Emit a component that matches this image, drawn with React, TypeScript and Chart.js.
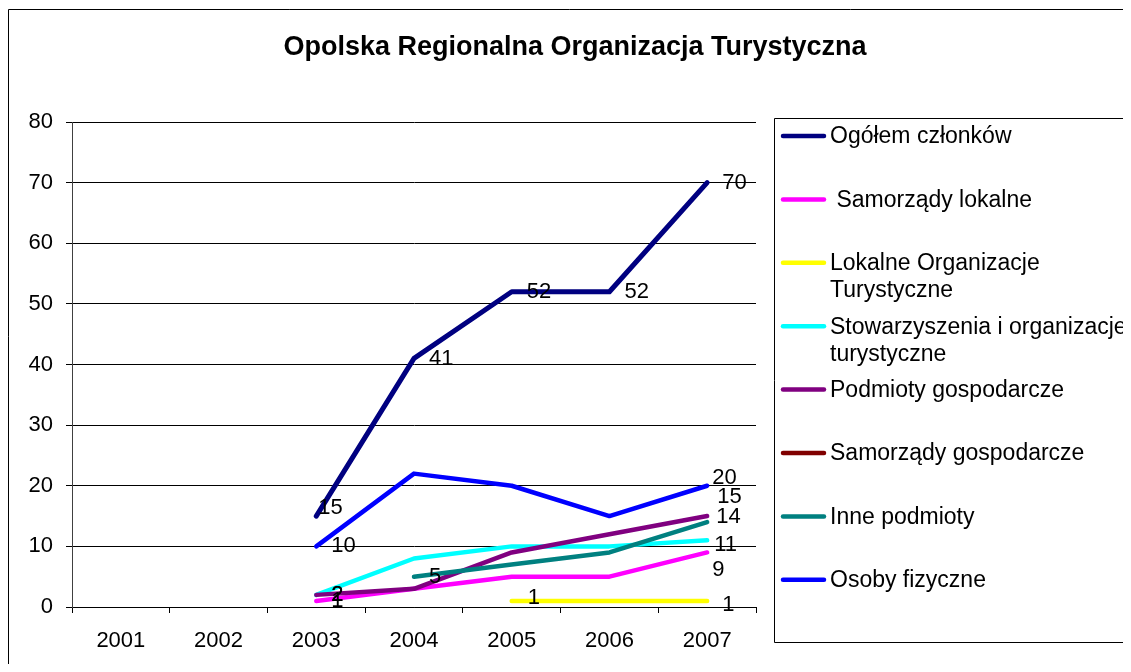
import React, { useEffect, useRef } from "react";
import { Chart, registerables } from "chart.js";

Chart.register(...registerables);

const chartTitle = "Opolska Regionalna Organizacja Turystyczna";

const years = ["2001", "2002", "2003", "2004", "2005", "2006", "2007"];

const ogolemCzlonkow = [null, null, 15, 41, 52, 52, 70];
const samorzadyLokalne = [null, null, 1, 3, 5, 5, 9];
const lokalneOrganizacje = [null, null, null, null, 1, 1, 1];
const stowarzyszenia = [null, null, 2, 8, 10, 10, 11];
const podmiotyGospodarcze = [null, null, 2, 3, 9, 12, 15];
const samorzadyGospodarcze = [null, null, null, null, null, null, null];
const innePodmioty = [null, null, null, 5, 7, 9, 14];
const osobyFizyczne = [null, null, 10, 22, 20, 15, 20];

const seriesValues = [
  ogolemCzlonkow,
  samorzadyLokalne,
  lokalneOrganizacje,
  stowarzyszenia,
  podmiotyGospodarcze,
  samorzadyGospodarcze,
  innePodmioty,
  osobyFizyczne,
];

const seriesNames = [
  ["Ogółem członków"],
  [" Samorządy lokalne"],
  ["Lokalne Organizacje", "Turystyczne"],
  ["Stowarzyszenia i organizacje", "turystyczne"],
  ["Podmioty gospodarcze"],
  ["Samorządy gospodarcze"],
  ["Inne podmioty"],
  ["Osoby fizyczne"],
];

const seriesColors = [
  "#000080",
  "#FF00FF",
  "#FFFF00",
  "#00FFFF",
  "#800080",
  "#800000",
  "#008080",
  "#0000FF",
];

// label every point (true) or only first and last point (false)
const labelAllPoints = [true, false, false, false, false, false, false, false];

// manual label nudges (px) like Excel's dragged labels: "series-point": [dx, dy]
const labelNudges: Record<string, [number, number]> = {
  "0-2": [-13, -8],
  "7-6": [-10, -8],
  "4-6": [-5, -19],
  "6-6": [-6, -5],
  "3-6": [-8, 5],
  "1-6": [-10, 17],
  "2-6": [0, 4],
  "2-4": [1, -3],
};

const FONT = "'Liberation Sans', Arial, Helvetica, sans-serif";
const W = 1123;
const H = 656;

const framePlugin = {
  id: "frame",
  beforeDraw(chart: any) {
    const ctx = chart.ctx;
    ctx.save();
    ctx.fillStyle = "#ffffff";
    ctx.fillRect(0, 0, chart.width, chart.height);
    ctx.strokeStyle = "#000000";
    ctx.lineWidth = 1;
    ctx.beginPath();
    ctx.moveTo(0.5, chart.height);
    ctx.lineTo(0.5, 1.5);
    ctx.lineTo(chart.width, 1.5);
    ctx.stroke();
    // title, centred on the whole chart frame
    ctx.font = `bold 27px ${FONT}`;
    ctx.fillStyle = "#000000";
    ctx.textAlign = "center";
    ctx.textBaseline = "middle";
    ctx.fillText(chartTitle, 567, 40);
    ctx.restore();
  },
};

const labelsPlugin = {
  id: "pointLabels",
  afterDatasetsDraw(chart: any) {
    const ctx = chart.ctx;
    ctx.save();
    ctx.font = `22px ${FONT}`;
    ctx.fillStyle = "#000000";
    ctx.textAlign = "left";
    ctx.textBaseline = "middle";
    chart.data.datasets.forEach((ds: any, i: number) => {
      const vals = ds.data as (number | null)[];
      const idx = vals.map((v, j) => (v === null ? -1 : j)).filter((j) => j >= 0);
      if (!idx.length) return;
      const first = idx[0];
      const last = idx[idx.length - 1];
      const meta = chart.getDatasetMeta(i);
      idx.forEach((j) => {
        if (!labelAllPoints[i] && j !== first && j !== last) return;
        const pt = meta.data[j];
        const n = labelNudges[`${i}-${j}`] || [0, 0];
        ctx.fillText(String(vals[j]), pt.x + 15 + n[0], pt.y + n[1]);
      });
    });
    ctx.restore();
  },
};

const legendPlugin = {
  id: "boxLegend",
  afterDraw(chart: any) {
    const ctx = chart.ctx;
    ctx.save();
    ctx.strokeStyle = "#000000";
    ctx.lineWidth = 1;
    ctx.beginPath();
    ctx.moveTo(chart.width + 5, 110.5);
    ctx.lineTo(766.5, 110.5);
    ctx.lineTo(766.5, 634.5);
    ctx.lineTo(chart.width + 5, 634.5);
    ctx.stroke();
    ctx.font = `23px ${FONT}`;
    ctx.fillStyle = "#000000";
    ctx.textAlign = "left";
    ctx.textBaseline = "middle";
    chart.data.datasets.forEach((ds: any, i: number) => {
      const y = 128 + i * 63.4;
      ctx.strokeStyle = ds.borderColor;
      ctx.lineWidth = 4.5;
      ctx.lineCap = "round";
      ctx.beginPath();
      ctx.moveTo(775, y);
      ctx.lineTo(816, y);
      ctx.stroke();
      const lines = seriesNames[i];
      lines.forEach((t, k) => ctx.fillText(t, 822, y + 1 + k * 27));
    });
    ctx.restore();
  },
};

export default function App() {
  const ref = useRef<HTMLCanvasElement | null>(null);

  useEffect(() => {
    if (!ref.current) return;
    const chart = new Chart(ref.current, {
      type: "line",
      data: {
        labels: years,
        datasets: seriesValues.map((vals, i) => ({
          label: seriesNames[i].join(" "),
          data: vals,
          borderColor: seriesColors[i],
          backgroundColor: seriesColors[i],
          borderWidth: i === 0 ? 5 : 4.5,
          borderCapStyle: "round" as const,
          borderJoinStyle: "round" as const,
          pointRadius: 0,
          pointHoverRadius: 0,
          tension: 0,
          spanGaps: false,
          fill: false,
          order: seriesValues.length - i,
        })),
      },
      options: {
        responsive: false,
        animation: false,
        layout: { padding: { left: 0, right: 375, top: 114, bottom: 10 } },
        plugins: {
          legend: { display: false },
          tooltip: { enabled: false },
          title: { display: false },
        },
        scales: {
          x: {
            type: "category",
            offset: true,
            afterFit(scale: any) {
              scale.height = 47;
            },
            grid: {
              display: true,
              offset: true,
              drawOnChartArea: false,
              drawTicks: true,
              tickLength: 6,
              color: "#000000",
            },
            border: { display: true, color: "#000000", width: 1 },
            ticks: {
              color: "#000000",
              font: { size: 22, family: FONT },
              padding: 15,
              maxRotation: 0,
              autoSkip: false,
            },
          },
          y: {
            min: 0,
            max: 80,
            afterFit(scale: any) {
              scale.width = 64;
            },
            grid: {
              color: "#000000",
              lineWidth: 1,
              drawTicks: true,
              tickLength: 6,
            },
            border: { display: true, color: "#404040", width: 1 },
            ticks: {
              stepSize: 10,
              color: "#000000",
              font: { size: 22, family: FONT },
              padding: 13,
            },
          },
        },
      },
      plugins: [framePlugin, labelsPlugin, legendPlugin],
    });
    return () => chart.destroy();
  }, []);

  return (
    <div style={{ width: W, height: H }}>
      <canvas ref={ref} width={W} height={H} style={{ display: "block", width: W, height: H }} />
    </div>
  );
}
